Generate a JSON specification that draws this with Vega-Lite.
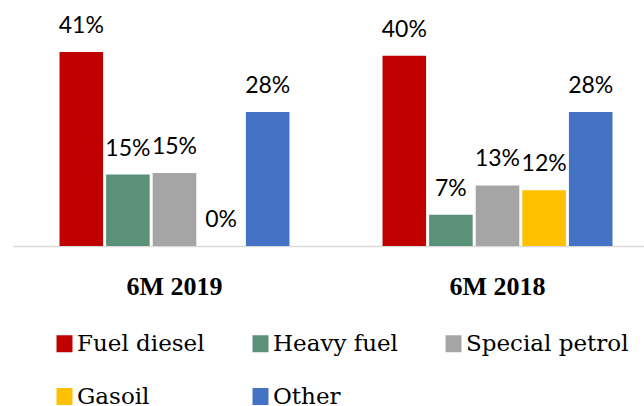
{
  "$schema": "https://vega.github.io/schema/vega-lite/v6.json",
  "width": 646,
  "height": 213,
  "autosize": "none",
  "padding": {"left": 13, "top": 33, "right": 0, "bottom": 160},
  "background": "white",
  "config": {"view": {"stroke": null}},
  "data": {
    "values": [
      {"period": "6M 2019", "fuel": "Fuel diesel", "share": 0.41},
      {"period": "6M 2019", "fuel": "Heavy fuel", "share": 0.151},
      {"period": "6M 2019", "fuel": "Special petrol", "share": 0.154},
      {"period": "6M 2019", "fuel": "Gasoil", "share": 0.0},
      {"period": "6M 2019", "fuel": "Other", "share": 0.283},
      {"period": "6M 2018", "fuel": "Fuel diesel", "share": 0.402},
      {"period": "6M 2018", "fuel": "Heavy fuel", "share": 0.066},
      {"period": "6M 2018", "fuel": "Special petrol", "share": 0.128},
      {"period": "6M 2018", "fuel": "Gasoil", "share": 0.118},
      {"period": "6M 2018", "fuel": "Other", "share": 0.283}
    ]
  },
  "encoding": {
    "x": {
      "field": "period",
      "type": "nominal",
      "sort": ["6M 2019", "6M 2018"],
      "scale": {"paddingInner": 0.288, "paddingOuter": 0.144},
      "axis": {
        "title": null,
        "ticks": false,
        "labelAngle": 0,
        "labelFont": "Liberation Serif",
        "labelFontWeight": "bold",
        "labelFontSize": 26,
        "labelColor": "#000000",
        "labelPadding": 27,
        "domainColor": "#d9d9d9",
        "domainWidth": 1.5,
        "grid": false
      }
    },
    "xOffset": {
      "field": "fuel",
      "type": "nominal",
      "sort": ["Fuel diesel", "Heavy fuel", "Special petrol", "Gasoil", "Other"],
      "scale": {"paddingInner": 0.065, "paddingOuter": 0}
    },
    "y": {
      "field": "share",
      "type": "quantitative",
      "scale": {"domain": [0, 0.45], "nice": false},
      "axis": null
    }
  },
  "layer": [
    {
      "mark": {"type": "bar"},
      "encoding": {
        "color": {
          "field": "fuel",
          "type": "nominal",
          "sort": ["Fuel diesel", "Heavy fuel", "Special petrol", "Gasoil", "Other"],
          "scale": {
            "domain": ["Fuel diesel", "Heavy fuel", "Special petrol", "Gasoil", "Other"],
            "range": ["#c00000", "#5b9178", "#a5a5a5", "#ffc000", "#4472c4"]
          },
          "legend": {
            "title": null,
            "orient": "none",
            "legendX": 40,
            "legendY": 299,
            "direction": "horizontal",
            "columns": 3,
            "gridAlign": "each",
            "columnPadding": 44,
            "rowPadding": 29,
            "symbolType": "M-0.94,-1H0.94V1H-0.94Z",
            "symbolSize": 289,
            "symbolStrokeWidth": 0,
            "labelFont": "DejaVu Serif",
            "labelFontSize": 23,
            "labelColor": "#000000",
            "labelOffset": 1,
            "labelLimit": 300
          }
        }
      }
    },
    {
      "mark": {
        "type": "text",
        "font": "Lato",
        "fontSize": 23,
        "color": "#000000",
        "baseline": "alphabetic",
        "dy": -19
      },
      "encoding": {
        "text": {"field": "share", "type": "quantitative", "format": ".0%"}
      }
    }
  ]
}
